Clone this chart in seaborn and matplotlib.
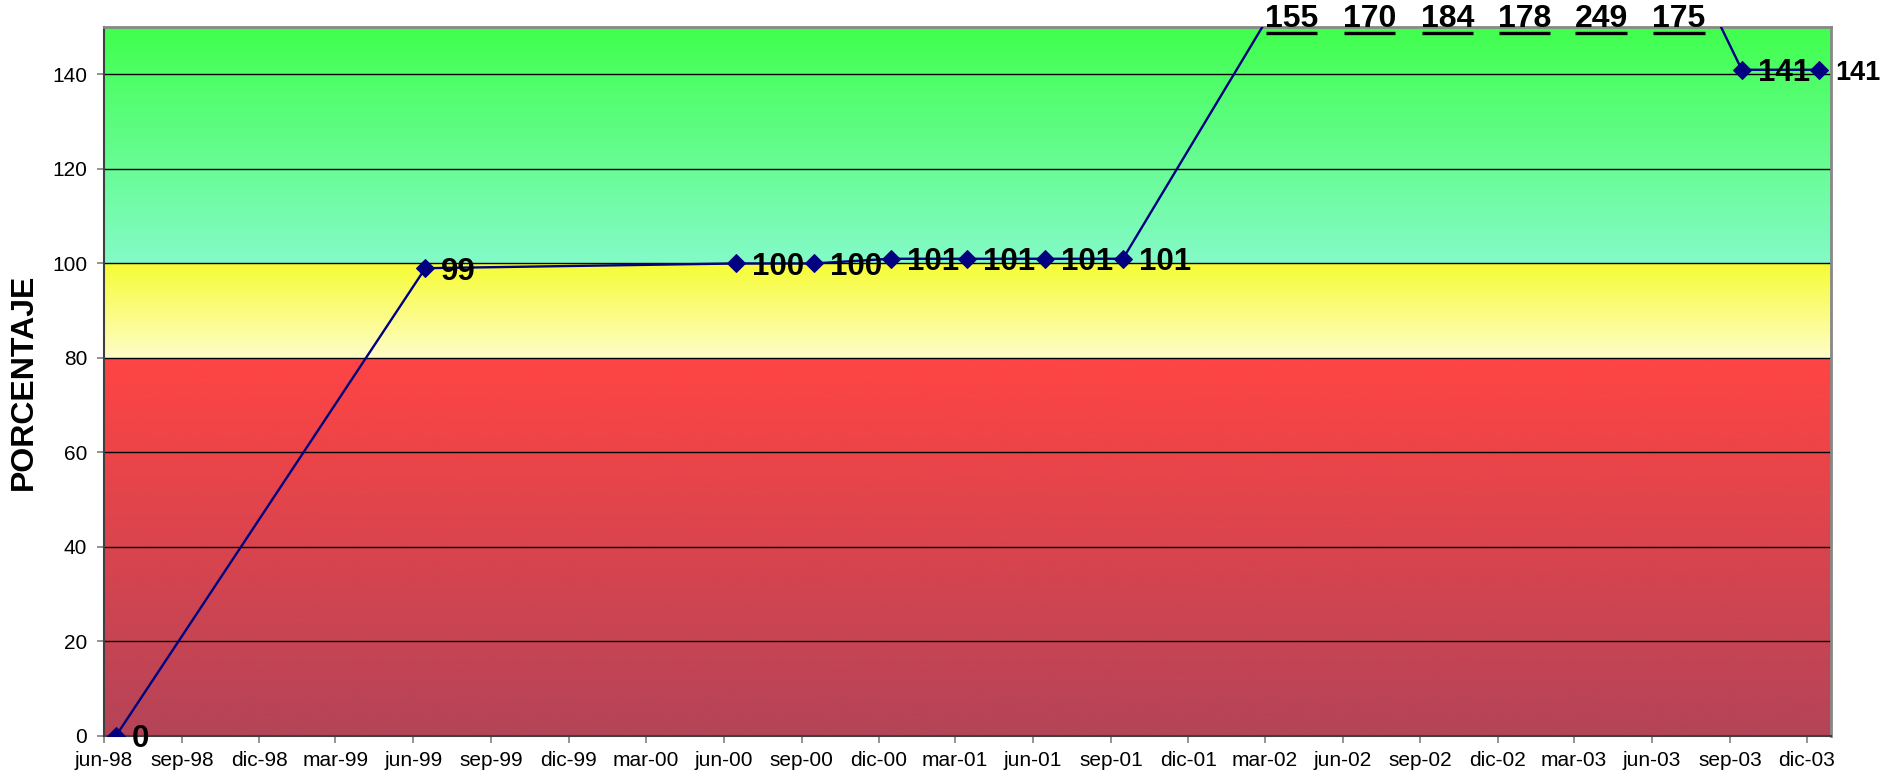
import numpy as np
import pandas as pd
import matplotlib
matplotlib.use("Agg")
import matplotlib.pyplot as plt
from matplotlib.colors import to_rgb
from matplotlib.lines import Line2D
import seaborn as sns

# ---------------- data ----------------
fechas = ['1998-06-15', '1999-06-15', '2000-06-15', '2000-09-15', '2000-12-15',
          '2001-03-15', '2001-06-15', '2001-09-15', '2002-03-15', '2002-06-15',
          '2002-09-15', '2002-12-15', '2003-03-15', '2003-06-15', '2003-09-15',
          '2003-12-15']
valores = [0, 99, 100, 100, 101, 101, 101, 101, 155, 170, 184, 178, 249, 175, 141, 141]

tick_labels = ['jun-98', 'sep-98', 'dic-98', 'mar-99', 'jun-99', 'sep-99', 'dic-99',
               'mar-00', 'jun-00', 'sep-00', 'dic-00', 'mar-01', 'jun-01', 'sep-01',
               'dic-01', 'mar-02', 'jun-02', 'sep-02', 'dic-02', 'mar-03', 'jun-03',
               'sep-03', 'dic-03']
y_ticks = [0, 20, 40, 60, 80, 100, 120, 140]
y_max = 150
x_start = '1998-06-01'
x_end = '2003-12-29'

# background bands: (low, high, colour at top, colour at bottom)
band_low = [0, 80, 100]
band_high = [80, 100, 150]
band_top = ['#FF4444', '#F6FC34', '#40FF4C']
band_bottom = ['#B44458', '#FFFDC8', '#84FAC8']

# ---------------- style ----------------
sns.set_style("white")
plt.rcParams['font.family'] = ['Liberation Sans', 'DejaVu Sans']
plt.rcParams['text.color'] = 'black'
plt.rcParams['axes.labelcolor'] = 'black'
plt.rcParams['xtick.color'] = 'black'
plt.rcParams['ytick.color'] = 'black'

df = pd.DataFrame({'fecha': pd.to_datetime(fechas), 'valor': valores})

fig = plt.figure(figsize=(18.81, 7.78), dpi=100)
ax = fig.add_axes([0.0553, 0.054, 0.918, 0.911])

# gradient bands
for lo, hi, ct, cb in zip(band_low, band_high, band_top, band_bottom):
    t = np.linspace(0, 1, 256)[:, None]
    top = np.array(to_rgb(ct))
    bot = np.array(to_rgb(cb))
    grad = (bot[None, :] * (1 - t) + top[None, :] * t)
    grad = grad[:, None, :]
    ax.imshow(grad, extent=(0, 1, lo, hi), origin='lower', aspect='auto',
              transform=ax.get_yaxis_transform(), zorder=0, interpolation='bilinear')

sns.lineplot(data=df, x='fecha', y='valor', ax=ax, color='#000080', linewidth=1.7,
             marker='D', markersize=9, markeredgecolor='#000080',
             markerfacecolor='#000080', zorder=3)

ax.set_xlim(pd.Timestamp(x_start), pd.Timestamp(x_end))
ax.set_ylim(0, y_max)
ax.set_yticks(y_ticks)
ax.set_yticklabels([str(v) for v in y_ticks])
tick_pos = pd.date_range(x_start, periods=len(tick_labels), freq='3MS')
ax.set_xticks(tick_pos)
ax.set_xticklabels(tick_labels)
ax.set_xlabel('')
ax.set_ylabel('')

ax.yaxis.grid(True, color='black', linewidth=1.0)
ax.xaxis.grid(False)
ax.tick_params(axis='y', which='major', direction='out', length=5, width=1.2,
               color='#808080', labelcolor='black', labelsize=15, pad=7, left=True)
ax.tick_params(axis='x', which='major', direction='out', length=5, width=1.2,
               color='#808080', labelcolor='black', labelsize=15, pad=6, bottom=True)
for s in ['left', 'bottom']:
    ax.spines[s].set_color('#404040')
    ax.spines[s].set_linewidth(1.5)
for s in ['top', 'right']:
    ax.spines[s].set_color('#888888')
    ax.spines[s].set_linewidth(2.0)

ax.text(-0.0466, 0.5, 'PORCENTAJE', transform=ax.transAxes, rotation=90,
        ha='center', va='center', fontsize=23, fontweight='bold', color='black')

# data labels
over = []
inside = []
for f, v in zip(df['fecha'], df['valor']):
    if v > y_max:
        t = ax.annotate(str(v), xy=(f, 1.0), xycoords=('data', 'axes fraction'),
                        xytext=(11, 0), textcoords='offset points', ha='center',
                        va='baseline', fontsize=23, fontweight='bold', color='black',
                        annotation_clip=False, zorder=5)
        over.append(t)
    else:
        t = ax.annotate(str(v), xy=(f, v), xycoords='data', xytext=(11.5, 0),
                        textcoords='offset points', ha='left', va='center_baseline',
                        fontsize=22.5, fontweight='bold', color='black',
                        annotation_clip=False, zorder=5)
        inside.append(t)

fig.canvas.draw()
renderer = fig.canvas.get_renderer()
fig_w = fig.bbox.width

# shrink a label that would run past the figure edge (the reference's last label
# touches the right edge)
for t in inside:
    bb = t.get_window_extent(renderer)
    avail = (fig_w - 1) - bb.x0
    if bb.x1 > fig_w - 1 and avail > 0:
        t.set_fontsize(t.get_fontsize() * avail / bb.width)

# underline the labels of points above the visible range
for t in over:
    bb = t.get_window_extent(renderer)
    base_y = ax.transAxes.transform((0, 1.0))[1]
    yline = base_y - 6
    fig.add_artist(Line2D([bb.x0 + 1, bb.x1 - 1], [yline, yline],
                          transform=None, color='black', linewidth=2.4,
                          solid_capstyle='butt', zorder=6))

fig.savefig('out.png', dpi=100)
